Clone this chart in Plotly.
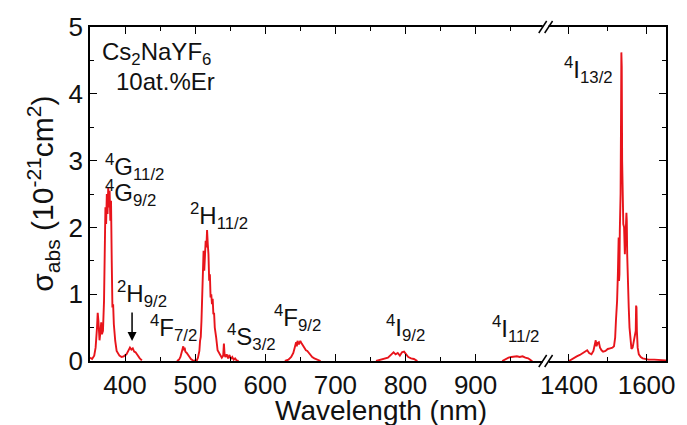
import plotly.graph_objects as go

# ---------------- data ----------------
# left segment (350-1000 nm); None separates absorption bands
wl_left = [350, 353, 356, 358, 360, 361, 362, 363.6, 365, 366, 367, 368.5, 370, 371, 372, 373, 374, 375,
           376, 377, 378, 379, 380, 381, 382, 383, 384, 385, 386, 388, 390, 392, 395, 398, 402, 405,
           407, 409, 411, 413, 415, 417, 419, 421, 424,
           None,
           474, 477, 479, 481, 482, 483, 484, 485, 486, 488, 490, 492, 494, 496, 498, 500, 502, 504,
           506, 507, 508, 509, 510, 511, 512, 513, 514, 515, 516, 517, 518, 519, 520, 521, 522, 523,
           524, 525, 526, 527, 528, 529, 530, 532, 534, 536, 538, 540, 541, 542, 543, 545, 547, 549,
           551, 553, 555, 557, 559, 562,
           None,
           628, 633, 637, 640, 642, 644, 645, 646, 648, 650, 652, 654, 656, 658, 660, 662, 664, 667,
           670, 674, 679,
           None,
           758, 764, 770, 775, 780, 783, 786, 789, 792, 795, 798, 801, 804, 808, 812, 817,
           None,
           938, 943, 947, 951, 955, 959, 963, 967, 971, 975, 979, 981]
sig_left = [0.05, 0.03, 0.08, 0.2, 0.5, 0.72, 0.6, 0.31, 0.45, 0.58, 0.4, 0.45, 0.9, 1.8, 2.3, 2.05, 2.5, 2.2,
            2.6, 2.3, 2.55, 2.1, 2.4, 1.5, 0.8, 0.85, 0.55, 0.4, 0.3, 0.15, 0.12, 0.08, 0.06, 0.07, 0.1, 0.15,
            0.2, 0.17, 0.19, 0.14, 0.13, 0.1, 0.06, 0.04, 0.01,
            None,
            0.0, 0.02, 0.06, 0.12, 0.18, 0.22, 0.16, 0.2, 0.14, 0.12, 0.08, 0.06, 0.03, 0.02, 0.0, 0.01, 0.0, 0.05,
            0.15, 0.3, 0.36, 0.6, 1.1, 1.55, 1.65, 1.35, 1.6, 1.8, 1.7, 1.96, 1.75, 1.6, 1.2, 1.3, 0.95, 1.0,
            0.85, 0.93, 0.7, 0.72, 0.5, 0.45, 0.35, 0.16, 0.12, 0.08, 0.05, 0.08, 0.26, 0.1, 0.06, 0.1, 0.04, 0.09,
            0.03, 0.06, 0.02, 0.04, 0.01, 0.0,
            None,
            0.0, 0.02, 0.06, 0.12, 0.2, 0.28, 0.22, 0.3, 0.25, 0.3, 0.26, 0.22, 0.2, 0.16, 0.15, 0.12, 0.1, 0.06,
            0.04, 0.02, 0.0,
            None,
            0.0, 0.02, 0.04, 0.05, 0.1, 0.13, 0.1, 0.12, 0.08, 0.13, 0.14, 0.1, 0.06, 0.04, 0.03, 0.0,
            None,
            0.0, 0.03, 0.05, 0.06, 0.07, 0.07, 0.06, 0.07, 0.05, 0.04, 0.01, 0.0]

# right segment (1340-1650 nm)
wl_right = [1400, 1405, 1412, 1420, 1428, 1435, 1442, 1447, 1452, 1458, 1463, 1467, 1469, 1471, 1474, 1477,
            1480, 1484, 1488, 1494, 1500, 1506, 1512, 1516, 1519, 1521, 1524, 1526, 1527, 1528, 1529, 1530,
            1531, 1533, 1534, 1535, 1536, 1537, 1538, 1540, 1542, 1544, 1546, 1548, 1549, 1550, 1551, 1552,
            1554, 1556, 1558, 1561, 1564, 1567, 1570, 1572, 1573, 1574, 1575, 1577, 1580, 1585, 1590, 1596,
            1605, 1620, 1635, 1650]
sig_right = [0.0, 0.02, 0.04, 0.07, 0.09, 0.12, 0.15, 0.16, 0.12, 0.1, 0.15, 0.3, 0.31, 0.22, 0.27, 0.28,
             0.2, 0.16, 0.14, 0.15, 0.18, 0.19, 0.2, 0.22, 0.35, 0.6, 0.9, 1.3, 1.7, 1.85, 1.2, 1.3,
             1.95, 2.5, 3.5, 4.62, 4.4, 3.0, 2.2, 2.05, 2.0, 1.6, 1.9, 2.22, 2.1, 1.6, 1.25, 1.3,
             0.8, 0.5, 0.3, 0.18, 0.2, 0.3, 0.38, 0.45, 0.83, 0.8, 0.45, 0.2, 0.1, 0.06, 0.04, 0.03,
             0.02, 0.02, 0.01, 0.01]

left_ticks = [400, 500, 600, 700, 800, 900]
left_minor = [450, 550, 650, 750, 850, 950]
right_ticks = [1400, 1600]
right_minor = [1500]
y_ticks = [0, 1, 2, 3, 4, 5]

# level labels: (text, x, y, axis)
labels = [
    ("<sup>4</sup>G<sub>11/2</sub>", 368, 2.9, "x"),
    ("<sup>4</sup>G<sub>9/2</sub>", 368, 2.52, "x"),
    ("<sup>2</sup>H<sub>11/2</sub>", 490, 2.17, "x"),
    ("<sup>2</sup>H<sub>9/2</sub>", 386, 1.01, "x"),
    ("<sup>4</sup>F<sub>7/2</sub>", 433, 0.49, "x"),
    ("<sup>4</sup>S<sub>3/2</sub>", 542, 0.36, "x"),
    ("<sup>4</sup>F<sub>9/2</sub>", 609, 0.64, "x"),
    ("<sup>4</sup>I<sub>9/2</sub>", 770, 0.49, "x"),
    ("<sup>4</sup>I<sub>11/2</sub>", 920, 0.48, "x"),
    ("<sup>4</sup>I<sub>13/2</sub>", 1381, 4.36, "x2"),
]

# ---------------- figure ----------------
RED = "#e8141b"
FONT = "Liberation Sans, Arial, sans-serif"
W, H = 687, 425
ML, MR, MT, MB = 90, 13, 25, 64
PW, PH = W - ML - MR, H - MT - MB
SPLIT = (552 - ML) / PW

fig = go.Figure()
fig.add_trace(go.Scatter(x=wl_left, y=sig_left, mode="lines", line=dict(color=RED, width=1.9),
                         connectgaps=False, xaxis="x", yaxis="y", showlegend=False))
fig.add_trace(go.Scatter(x=wl_right, y=sig_right, mode="lines", line=dict(color=RED, width=1.9),
                         xaxis="x2", yaxis="y2", showlegend=False))

axis_common = dict(showline=True, linecolor="black", linewidth=1.6, ticks="inside", ticklen=7,
                   tickwidth=1.4, tickcolor="black", showgrid=False, zeroline=False,
                   tickfont=dict(family=FONT, size=26, color="#111"))

fig.update_layout(
    width=W, height=H, margin=dict(l=ML, r=MR, t=MT, b=MB),
    paper_bgcolor="white", plot_bgcolor="white",
    font=dict(family=FONT, color="#111"),
    xaxis=dict(domain=[0, SPLIT], range=[350, 1000], tickmode="array", tickvals=left_ticks,
               minor=dict(tickmode="array", tickvals=left_minor, ticks="inside", ticklen=4,
                          tickcolor="black", tickwidth=1.4),
               mirror="ticks", anchor="y", **axis_common),
    xaxis2=dict(domain=[SPLIT, 1], range=[1340, 1650], tickmode="array", tickvals=right_ticks,
                minor=dict(tickmode="array", tickvals=right_minor, ticks="inside", ticklen=4,
                           tickcolor="black", tickwidth=1.4),
                mirror="ticks", anchor="y2", **axis_common),
    yaxis=dict(domain=[0, 1], range=[0, 5], tickmode="array", tickvals=y_ticks,
               minor=dict(dtick=0.5, ticks="inside", ticklen=4, tickcolor="black", tickwidth=1.4),
               anchor="x", side="left", mirror=False, **axis_common),
    yaxis2=dict(domain=[0, 1], range=[0, 5], matches="y", tickmode="array", tickvals=y_ticks,
                minor=dict(dtick=0.5, ticks="inside", ticklen=4, tickcolor="black", tickwidth=1.4),
                anchor="x2", side="right", showticklabels=False, mirror=False, **axis_common),
)

ann = []
lab_font = dict(family=FONT, size=24, color="#111")
for text, x, y, ax in labels:
    ann.append(dict(text=text, x=x, y=y, xref=ax, yref="y" if ax == "x" else "y2",
                    xanchor="left", yanchor="middle", showarrow=False, font=lab_font))

# sample name
ann.append(dict(text="Cs<sub>2</sub>NaYF<sub>6</sub>", x=364, y=4.6, xref="x", yref="y",
                xanchor="left", yanchor="middle", showarrow=False, font=lab_font))
ann.append(dict(text="10at.%Er", x=457, y=4.18, xref="x", yref="y",
                xanchor="center", yanchor="middle", showarrow=False, font=lab_font))
# arrow to 2H9/2
ann.append(dict(text="", x=410, y=0.3, ax=410, ay=0.75, xref="x", yref="y", axref="x", ayref="y",
                showarrow=True, arrowhead=2, arrowsize=1.2, arrowwidth=1.5, arrowcolor="black"))
# axis titles
ann.append(dict(text="Wavelength (nm)", x=(385 - ML) / PW, y=(MT + PH - 411) / PH,
                xref="paper", yref="paper", xanchor="center", yanchor="middle", showarrow=False,
                font=dict(family=FONT, size=28, color="#111")))
ann.append(dict(text="σ<sub>abs</sub> (10<sup>-21</sup>cm<sup>2</sup>)", x=(42 - ML) / PW,
                y=0.5, xref="paper", yref="paper", xanchor="center", yanchor="middle",
                textangle=-90, showarrow=False, font=dict(family=FONT, size=30, color="#111")))
fig.update_layout(annotations=ann)

# axis-break marks
shapes = []
dxp, dyp = 1 / PW, 1 / PH
for yb in (0, 1):
    shapes.append(dict(type="rect", xref="paper", yref="paper", x0=SPLIT - 3 * dxp, x1=SPLIT + 3 * dxp,
                       y0=yb - 2.5 * dyp, y1=yb + 2.5 * dyp, fillcolor="white",
                       line=dict(width=0), layer="above"))
    for off in (-3, 3):
        shapes.append(dict(type="line", xref="paper", yref="paper",
                           x0=SPLIT + (off - 4) * dxp, y0=yb - 6 * dyp,
                           x1=SPLIT + (off + 4) * dxp, y1=yb + 6 * dyp,
                           line=dict(color="black", width=1.5), layer="above"))
fig.update_layout(shapes=shapes)

fig.write_html("out.html")
